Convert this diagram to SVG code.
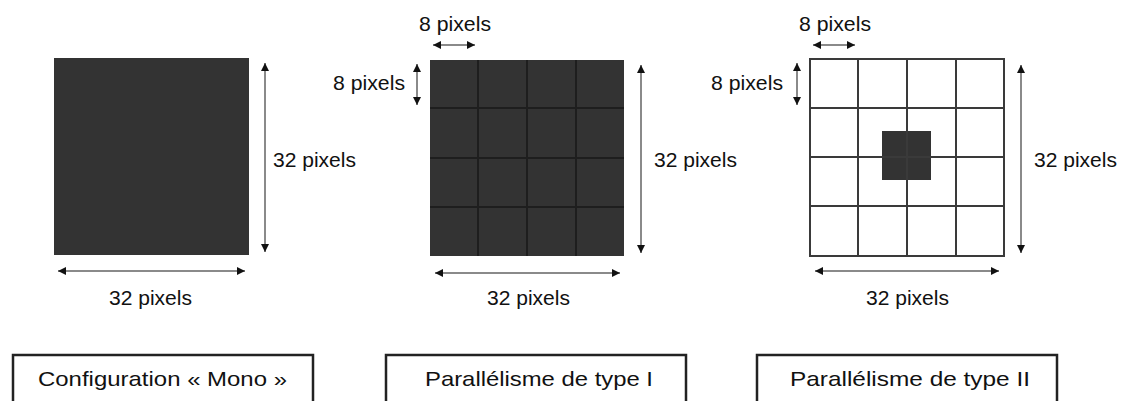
<svg xmlns="http://www.w3.org/2000/svg" width="1123" height="401" viewBox="0 0 1123 401">
<style>
.t{font-family:"Liberation Sans",Arial,sans-serif;font-size:20px;fill:#111}
.b{font-family:"Liberation Sans",Arial,sans-serif;font-size:21px;fill:#111}
.dim{stroke:#8a8a8a;stroke-width:2;fill:none;marker-start:url(#ah);marker-end:url(#ah)}
.grid{stroke:#1e1e1e;stroke-width:2;fill:none}
.gridw{stroke:#3a3a3a;stroke-width:2;fill:none}
.box{fill:#fff;stroke:#222;stroke-width:2.5}
</style>
<defs>
<marker id="ah" viewBox="0 0 8 8" refX="8" refY="4" markerWidth="8" markerHeight="8" markerUnits="userSpaceOnUse" orient="auto-start-reverse">
<path d="M0,0 L8,4 L0,8 z" fill="#111"/>
</marker>
</defs>
<rect width="1123" height="401" fill="#fff"/>

<g id="panel-mono">
<rect x="54" y="58" width="195" height="197" fill="#333"/>
</g>

<g id="panel-type1">
<rect x="430" y="60" width="194" height="196" fill="#333"/>
<path class="grid" d="M478,60V256M527,60V256M576,60V256M430,108H624M430,158H624M430,207H624"/>
</g>

<g id="panel-type2">
<rect x="882" y="131" width="49" height="49" fill="#333"/>
<rect x="810" y="59" width="194" height="197" class="gridw"/>
<path class="gridw" d="M858,59V256M907,59V256M956,59V256M810,108H1004M810,157H1004M810,206H1004"/>
</g>

<g id="connectors">
<line class="dim" x1="265" y1="63" x2="265" y2="252"/>
<line class="dim" x1="58" y1="271" x2="245" y2="271"/>
<line class="dim" x1="433" y1="45" x2="475" y2="45"/>
<line class="dim" x1="417" y1="64" x2="417" y2="105"/>
<line class="dim" x1="641" y1="65" x2="641" y2="253"/>
<line class="dim" x1="435" y1="273" x2="620" y2="273"/>
<line class="dim" x1="813" y1="45" x2="855" y2="45"/>
<line class="dim" x1="797" y1="63" x2="797" y2="105"/>
<line class="dim" x1="1021" y1="65" x2="1021" y2="253"/>
<line class="dim" x1="815" y1="271" x2="999" y2="271"/>
</g>

<g id="labels">
<text class="t" x="273" y="167" textLength="83" lengthAdjust="spacingAndGlyphs">32 pixels</text>
<text class="t" x="109" y="305" textLength="83" lengthAdjust="spacingAndGlyphs">32 pixels</text>
<text class="t" x="419" y="31" textLength="72" lengthAdjust="spacingAndGlyphs">8 pixels</text>
<text class="t" x="333" y="90" textLength="72" lengthAdjust="spacingAndGlyphs">8 pixels</text>
<text class="t" x="654" y="167" textLength="83" lengthAdjust="spacingAndGlyphs">32 pixels</text>
<text class="t" x="487" y="305" textLength="83" lengthAdjust="spacingAndGlyphs">32 pixels</text>
<text class="t" x="799" y="31" textLength="72" lengthAdjust="spacingAndGlyphs">8 pixels</text>
<text class="t" x="711" y="90" textLength="72" lengthAdjust="spacingAndGlyphs">8 pixels</text>
<text class="t" x="1034" y="167" textLength="83" lengthAdjust="spacingAndGlyphs">32 pixels</text>
<text class="t" x="866" y="305" textLength="83" lengthAdjust="spacingAndGlyphs">32 pixels</text>
</g>

<g id="box-mono">
<rect class="box" x="13" y="355" width="300" height="70"/>
<text class="b" x="38" y="386" textLength="249" lengthAdjust="spacingAndGlyphs">Configuration « Mono »</text>
</g>
<g id="box-type1">
<rect class="box" x="386" y="355" width="300" height="70"/>
<text class="b" x="425" y="386" textLength="228" lengthAdjust="spacingAndGlyphs">Parallélisme de type I</text>
</g>
<g id="box-type2">
<rect class="box" x="757" y="355" width="300" height="70"/>
<text class="b" x="790" y="386" textLength="240" lengthAdjust="spacingAndGlyphs">Parallélisme de type II</text>
</g>
</svg>
